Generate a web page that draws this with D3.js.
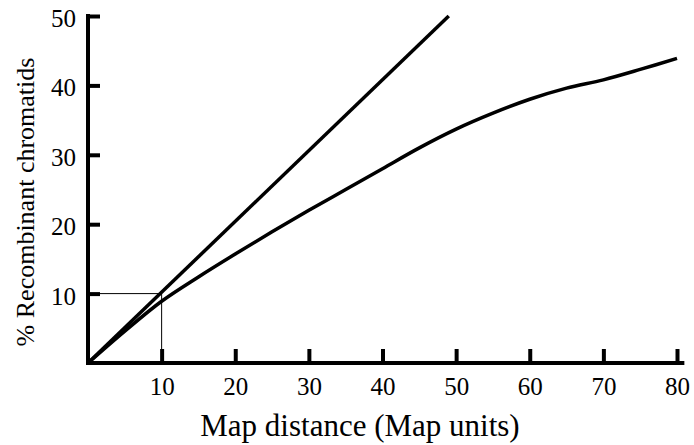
<!DOCTYPE html>
<html lang="en">
<head>
    <meta charset="UTF-8">
    <title>Map distance vs recombinant chromatids</title>
    <script src="https://d3js.org/d3.v7.min.js"></script>
    <style>
        body {
            margin: 0;
            background: #fff;
            font-family: "Liberation Serif", "Times New Roman", serif;
        }
        .tick text {
            font-family: "Liberation Serif", "Times New Roman", serif;
            font-size: 25px;
            fill: #000;
        }
        .axis-label {
            font-family: "Liberation Serif", "Times New Roman", serif;
            fill: #000;
        }
    </style>
</head>
<body>
    <svg id="chart" width="694" height="445"></svg>

    <script>
        // values
        const xTicks = [10, 20, 30, 40, 50, 60, 70, 80];
        const yTicks = [10, 20, 30, 40, 50];

        // straight line (no interference)
        const lineDist = [0, 49];
        const lineRecomb = [0, 50];

        // observed curve
        const curveDist = [0, 5, 10, 15, 20, 25, 30, 35, 40, 45, 50, 55, 60, 65, 70, 75, 80];
        const curveRecomb = [0, 4.6, 8.9, 12.4, 15.7, 18.9, 22.0, 25.0, 28.0, 31.0, 33.7, 36.0, 38.0, 39.6, 40.8, 42.3, 43.9];

        // guide at 10 map units
        const guideX = 10, guideY = 10;

        const svg = d3.select("#chart");

        const x = d3.scaleLinear().domain([0, 80]).range([88, 677]);
        const y = d3.scaleLinear().domain([0, 50]).range([363, 16]);

        // x axis
        const xAxis = svg.append("g")
            .attr("transform", `translate(0,${y(0)})`)
            .call(d3.axisBottom(x).tickValues(xTicks).tickSize(-14).tickSizeOuter(0).tickPadding(14));
        xAxis.attr("font-family", null).attr("font-size", null);
        xAxis.select(".domain").remove();
        xAxis.selectAll(".tick line").attr("stroke", "#000").attr("stroke-width", 4);

        // y axis
        const yAxis = svg.append("g")
            .attr("transform", `translate(${x(0)},0)`)
            .call(d3.axisLeft(y).tickValues(yTicks).tickSize(-12).tickSizeOuter(0).tickPadding(12));
        yAxis.attr("font-family", null).attr("font-size", null);
        yAxis.select(".domain").remove();
        yAxis.selectAll(".tick line").attr("stroke", "#000").attr("stroke-width", 4);
        yAxis.selectAll(".tick text").attr("dy", "0.42em");

        // axis lines
        svg.append("line")
            .attr("x1", x(0) - 2).attr("x2", x(81))
            .attr("y1", y(0)).attr("y2", y(0))
            .attr("stroke", "#000").attr("stroke-width", 4);
        svg.append("line")
            .attr("x1", x(0)).attr("x2", x(0))
            .attr("y1", y(0)).attr("y2", y(50) - 2)
            .attr("stroke", "#000").attr("stroke-width", 4);

        // thin guide lines
        svg.append("path")
            .attr("d", `M${x(0)},${y(guideY)}H${x(guideX)}V${y(0)}`)
            .attr("fill", "none")
            .attr("stroke", "#000")
            .attr("stroke-width", 1);

        const line = d3.line()
            .x(d => x(d[0]))
            .y(d => y(d[1]));

        svg.append("path")
            .datum(d3.zip(lineDist, lineRecomb))
            .attr("d", line)
            .attr("fill", "none")
            .attr("stroke", "#000")
            .attr("stroke-width", 3.5);

        svg.append("path")
            .datum(d3.zip(curveDist, curveRecomb))
            .attr("d", line.curve(d3.curveCatmullRom))
            .attr("fill", "none")
            .attr("stroke", "#000")
            .attr("stroke-width", 3.5);

        // labels
        svg.append("text")
            .attr("class", "axis-label")
            .attr("text-anchor", "middle")
            .attr("font-size", 31)
            .attr("x", 360)
            .attr("y", 436)
            .text("Map distance (Map units)");

        svg.append("text")
            .attr("class", "axis-label")
            .attr("text-anchor", "middle")
            .attr("font-size", 26)
            .attr("transform", "translate(34,202) rotate(-90)")
            .text("% Recombinant chromatids");
    </script>
</body>
</html>
